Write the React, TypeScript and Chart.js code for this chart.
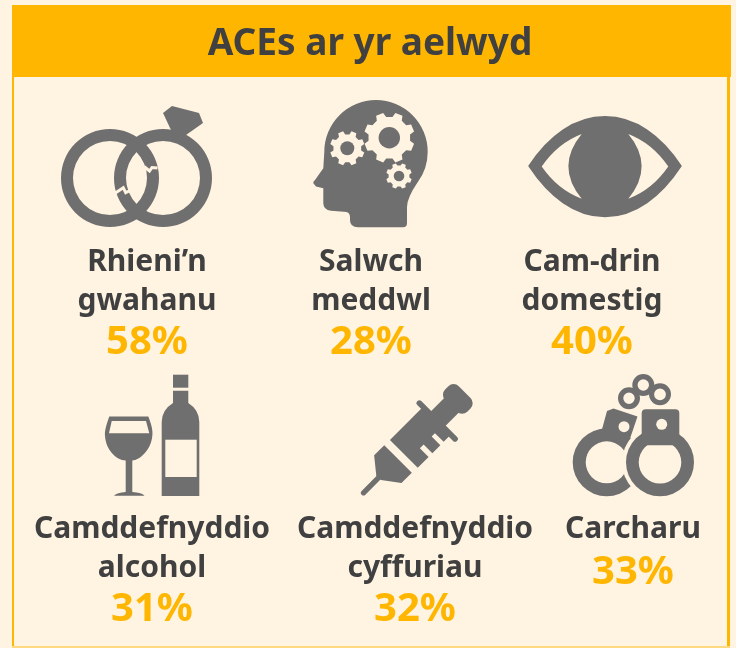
import React, { useEffect, useRef } from "react";
import { Chart, registerables } from "chart.js";

Chart.register(...registerables);

const title = "ACEs ar yr aelwyd";
const categories = [
  ["Rhieni’n", "gwahanu"],
  ["Salwch", "meddwl"],
  ["Cam-drin", "domestig"],
  ["Camddefnyddio", "alcohol"],
  ["Camddefnyddio", "cyffuriau"],
  ["Carcharu"],
];
const percentages = [58, 28, 40, 31, 32, 33];
const gridColumns = [0, 1, 2, 0, 1, 2];
const gridRows = [0, 0, 0, 1, 1, 1];

const BG = "#FFF3E2";
const ORANGE = "#FFB600";
const GREY = "#6F6F6F";
const INK = "#404040";
const FONT = '"Noto Sans", sans-serif';
const TEXT_CENTERS = [147, 371, 592, 152, 415, 633];
const TILE_W = 245;
const TILE_H = 324;

type C = CanvasRenderingContext2D;

function ring(c: C, x: number, y: number, outer: number, inner: number) {
  c.beginPath();
  c.arc(x, y, outer, 0, Math.PI * 2);
  c.moveTo(x + inner, y);
  c.arc(x, y, inner, 0, Math.PI * 2, true);
  c.fill();
}
function poly(c: C, pts: number[][]) {
  c.beginPath();
  pts.forEach((p, i) => (i ? c.lineTo(p[0], p[1]) : c.moveTo(p[0], p[1])));
  c.closePath();
  c.fill();
}
function rr(c: C, x: number, y: number, w: number, h: number, r: number) {
  c.beginPath();
  c.roundRect(x, y, w, h, r);
  c.fill();
}
function gear(c: C, x: number, y: number, outer: number, body: number, hole: number) {
  c.fillStyle = BG;
  c.beginPath();
  const n = 8;
  for (let i = 0; i < n; i++) {
    const a = (i / n) * Math.PI * 2 + Math.PI / 8;
    const s = Math.PI / n;
    const pts = [
      [a - s * 0.62, body],
      [a - s * 0.38, outer],
      [a + s * 0.38, outer],
      [a + s * 0.62, body],
    ];
    pts.forEach(([t, r]) => c.lineTo(x + Math.cos(t) * r, y + Math.sin(t) * r));
  }
  c.closePath();
  c.fill();
  c.fillStyle = GREY;
  c.beginPath();
  c.arc(x, y, hole, 0, Math.PI * 2);
  c.fill();
}

function drawRings(c: C) {
  ring(c, 110, 178, 49, 37);
  ring(c, 163, 178, 49, 37);
  poly(c, [[163, 113], [172, 106], [199, 113], [203, 123], [186, 135], [178, 140], [171, 130]]);
  c.strokeStyle = BG;
  c.lineWidth = 3;
  c.lineJoin = "miter";
  c.beginPath();
  c.moveTo(115, 193.3); c.lineTo(123.3, 187.7); c.lineTo(125.7, 192.7); c.lineTo(131, 190);
  c.stroke();
  c.beginPath();
  c.moveTo(144, 166.5); c.lineTo(149.5, 171); c.lineTo(152, 167.5); c.lineTo(157.5, 168);
  c.stroke();
}
function drawHead(c: C) {
  c.beginPath();
  c.moveTo(313.3, 183.3);
  c.quadraticCurveTo(313, 181.5, 315, 180);
  c.lineTo(323.3, 168.3);
  c.lineTo(324.3, 152);
  c.arc(376, 151.7, 51.7, Math.PI, Math.PI * 0.2);
  c.quadraticCurveTo(407, 198, 407, 207);
  c.lineTo(407, 223);
  c.quadraticCurveTo(407, 227.3, 403, 227.3);
  c.lineTo(358, 227.3);
  c.quadraticCurveTo(350, 227.3, 350, 220);
  c.lineTo(350, 217);
  c.quadraticCurveTo(350, 211.7, 344, 211.7);
  c.lineTo(331, 210.7);
  c.quadraticCurveTo(323.3, 210, 323.3, 203);
  c.lineTo(323.3, 188.3);
  c.lineTo(316, 186.5);
  c.closePath();
  c.fill();
  gear(c, 389.3, 137.7, 25.5, 21, 10.7);
  gear(c, 347.3, 148.3, 17.5, 14, 7);
  gear(c, 399, 176, 13, 10.5, 5.3);
}
function drawEye(c: C) {
  c.lineJoin = "round";
  c.lineWidth = 2;
  c.strokeStyle = GREY;
  c.beginPath();
  c.moveTo(529.3, 166);
  c.bezierCurveTo(549, 136, 575, 117, 605, 117);
  c.bezierCurveTo(635, 117, 661, 136, 680.7, 166);
  c.bezierCurveTo(661, 196, 635, 216.3, 605, 216.3);
  c.bezierCurveTo(575, 216.3, 549, 196, 529.3, 166);
  c.closePath();
  c.fill();
  c.stroke();
  c.fillStyle = BG;
  [1, -1].forEach((s) => {
    const mx = (v: number) => 605 + s * (v - 605);
    c.beginPath();
    c.moveTo(mx(541.7), 166.5);
    c.quadraticCurveTo(mx(558), 143, mx(581.7), 134);
    c.quadraticCurveTo(mx(555), 166.3, mx(581.7), 198.7);
    c.quadraticCurveTo(mx(558), 190, mx(541.7), 166.5);
    c.closePath();
    c.fill();
  });
}
function drawWine(c: C) {
  c.beginPath();
  c.moveTo(109.3, 416.5);
  c.lineTo(148.3, 416.5);
  c.bezierCurveTo(152, 426, 153, 431, 152.3, 436);
  c.bezierCurveTo(151, 450, 140, 460, 132.3, 460.5);
  c.lineTo(132.3, 492);
  c.quadraticCurveTo(142, 492.5, 144.5, 495.8);
  c.lineTo(114, 495.8);
  c.quadraticCurveTo(117, 492.5, 125.7, 492);
  c.lineTo(125.7, 460.5);
  c.bezierCurveTo(116, 460, 106, 450, 105, 436);
  c.bezierCurveTo(104.5, 431, 106, 426, 109.3, 416.5);
  c.closePath();
  c.fill();
  c.fillStyle = BG;
  poly(c, [[111.7, 421], [146, 421], [149.3, 433.3], [109, 433.3]]);
  c.fillStyle = GREY;
  c.fillRect(173, 374.7, 15.3, 13);
  c.beginPath();
  c.moveTo(173, 390.7);
  c.lineTo(188.3, 390.7);
  c.lineTo(188.3, 403);
  c.quadraticCurveTo(199.3, 410, 199.3, 422);
  c.lineTo(199.3, 496);
  c.lineTo(161.7, 496);
  c.lineTo(161.7, 422);
  c.quadraticCurveTo(161.7, 410, 173, 403);
  c.closePath();
  c.fill();
  c.fillStyle = BG;
  c.fillRect(165.3, 439.7, 31.4, 37.3);
}
function drawSyringe(c: C) {
  c.save();
  c.translate(364, 492.3);
  c.rotate(-Math.PI / 4);
  c.scale(1 / 3, 1 / 3);
  rr(c, -10, -8, 80, 16, 8);
  poly(c, [[62, -10], [100, -57], [143, -57], [143, 60], [99, 60], [62, 10]]);
  poly(c, [[166, -56], [308, -56], [308, 62], [276, 62], [276, 25], [262, 25], [262, 62],
    [228, 62], [228, 25], [212, 25], [212, 62], [166, 62]]);
  rr(c, 298, -80, 17, 168, 8);
  c.fillRect(310, -30, 70, 62);
  rr(c, 368, -46, 58, 94, 22);
  c.restore();
}
function drawCuffs(c: C) {
  ring(c, 606.7, 462.3, 34, 21);
  poly(c, [[613.5, 408.5], [637.5, 416.5], [628.5, 443], [601, 433], [607, 411]]);
  c.fillStyle = BG;
  c.beginPath();
  c.arc(624, 426.7, 5.5, 0, Math.PI * 2);
  c.fill();
  c.beginPath();
  c.arc(660, 462.3, 38, 0, Math.PI * 2);
  c.fill();
  c.fillStyle = GREY;
  ring(c, 660, 462.3, 34, 21.3);
  rr(c, 641.7, 409.3, 37.6, 36, 4);
  c.fillStyle = BG;
  c.beginPath();
  c.arc(661.7, 424.3, 5.5, 0, Math.PI * 2);
  c.fill();
  c.fillStyle = GREY;
  ring(c, 629, 398.3, 11, 5.7);
  ring(c, 643.3, 385, 11, 5.7);
  ring(c, 660, 394.3, 11, 5.9);
}

const ICONS = [drawRings, drawHead, drawEye, drawWine, drawSyringe, drawCuffs];

function makeTile(i: number) {
  const canvas = document.createElement("canvas");
  canvas.width = TILE_W;
  canvas.height = TILE_H;
  const c = canvas.getContext("2d") as C;
  c.translate(-TILE_W * gridColumns[i], -TILE_H * gridRows[i]);
  c.fillStyle = GREY;
  ICONS[i](c);
  return canvas;
}

const framePlugin = {
  id: "frame",
  beforeDraw(chart: any) {
    const c: C = chart.ctx;
    c.save();
    c.fillStyle = BG;
    c.fillRect(0, 0, 736, 648);
    c.fillStyle = ORANGE;
    c.fillRect(12, 5, 719, 72);
    c.fillRect(12, 77, 2, 569);
    c.fillRect(727, 77, 3, 569);
    c.fillStyle = "#FFD97F";
    c.fillRect(12, 646, 718, 2);
    c.restore();
  },
};

const textPlugin = {
  id: "texts",
  afterDatasetsDraw(chart: any) {
    const c: C = chart.ctx;
    c.save();
    c.textAlign = "center";
    c.textBaseline = "alphabetic";
    c.fillStyle = INK;
    c.font = `bold 37px ${FONT}`;
    c.fillText(title, 370, 55);
    categories.forEach((lines, i) => {
      const top = gridRows[i] === 0 ? 271 : 538;
      c.fillStyle = INK;
      c.font = `bold 30px ${FONT}`;
      lines.forEach((line, j) => c.fillText(line, TEXT_CENTERS[i], top + j * 39));
      c.fillStyle = ORANGE;
      c.font = `bold 40px ${FONT}`;
      c.fillText(`${percentages[i]}%`, TEXT_CENTERS[i], top + (lines.length - 1) * 39 + 44 + (lines.length === 1 ? 2 : 0));
    });
    c.restore();
  },
};

export default function App() {
  const ref = useRef<HTMLCanvasElement>(null);
  useEffect(() => {
    const chart = new Chart(ref.current as HTMLCanvasElement, {
      type: "scatter",
      data: {
        labels: categories.map((l) => l.join(" ")),
        datasets: [
          {
            label: title,
            data: percentages.map((value, i) => ({ x: gridColumns[i], y: gridRows[i], value })) as any,
            pointStyle: percentages.map((_, i) => makeTile(i)) as any,
            pointRadius: 1,
            pointHoverRadius: 1,
            clip: false as any,
          },
        ],
      },
      options: {
        animation: false,
        responsive: false,
        events: [],
        layout: { autoPadding: false, padding: { left: 0, right: 1, top: 0, bottom: 0 } },
        plugins: { legend: { display: false }, tooltip: { enabled: false }, title: { display: false } },
        scales: {
          x: { type: "linear", display: false, min: -0.5, max: 2.5 },
          y: { type: "linear", display: false, min: -0.5, max: 1.5, reverse: true },
        },
      },
      plugins: [framePlugin, textPlugin],
    });
    return () => chart.destroy();
  }, []);
  return (
    <div style={{ position: "absolute", left: 0, top: 0, width: 736, height: 648 }}>
      <canvas ref={ref} width={736} height={648} style={{ display: "block" }} />
    </div>
  );
}
